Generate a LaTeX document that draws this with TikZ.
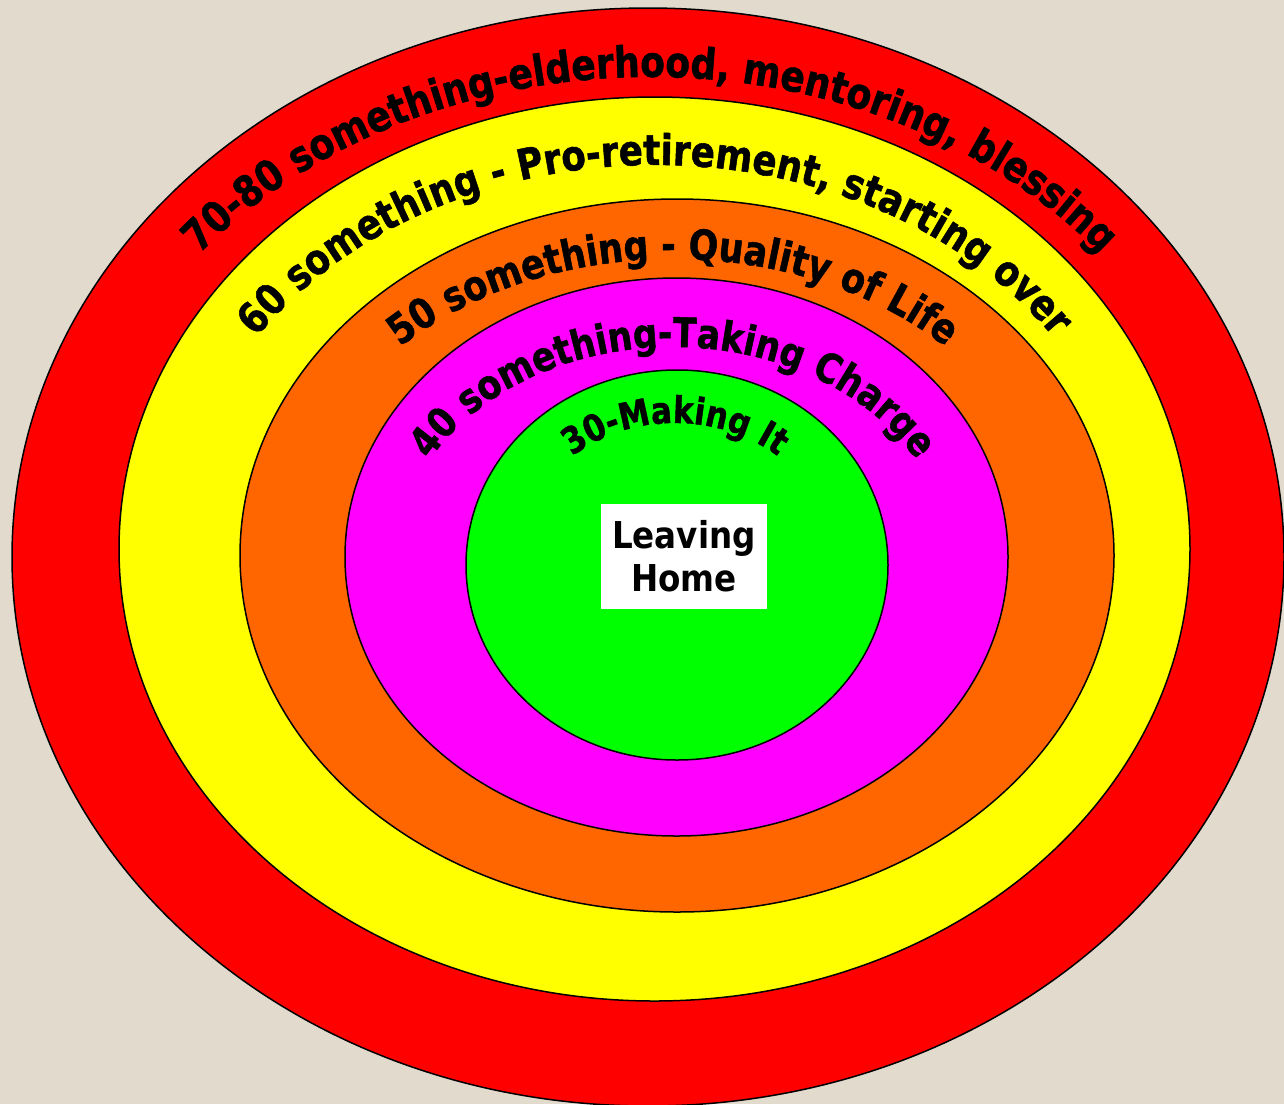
\documentclass[tikz,border=0pt]{standalone}
\usepackage{fontspec}
\usetikzlibrary{decorations.text}

\newfontfamily\ringfont[FakeStretch=0.84, FakeBold=1.2]{DejaVu Sans}
\newfontfamily\homefont[FakeStretch=0.88]{DejaVu Sans}

\definecolor{paper}{RGB}{225,218,205}
\definecolor{ringred}{RGB}{255,0,0}
\definecolor{ringyellow}{RGB}{255,255,0}
\definecolor{ringorange}{RGB}{255,102,0}
\definecolor{ringmagenta}{RGB}{255,0,255}
\definecolor{ringgreen}{RGB}{0,255,0}

\begin{document}
\begin{tikzpicture}[
    x=0.5pt, y=-0.5pt,
    % Ring styles
    ring/.style={
        fill=#1,
        draw=black,
        line width=0.75pt
    },
    % Text bent along an arc
    arclabel/.style n args={2}{
        decorate,
        decoration={
            text along path,
            text align=center,
            text={|\ringfont\bfseries\fontsize{#1}{#1}\selectfont|#2}
        }
    },
    centrebox/.style={
        fill=white,
        minimum width=83pt,
        minimum height=52.5pt,
        inner sep=0pt,
        align=center,
        font=\homefont\bfseries\fontsize{18.5pt}{21.5pt}\selectfont
    }
]

% Background
\fill[paper] (0,0) rectangle (1284,1104);
\clip (0,0) rectangle (1284,1104);

% Rings, outside in
\draw[ring=ringred]     (648,557)   ellipse [x radius=636,   y radius=549];
\draw[ring=ringyellow]  (654.5,549) ellipse [x radius=535.5, y radius=452];
\draw[ring=ringorange]  (677,555.5) ellipse [x radius=437,   y radius=356.5];
\draw[ring=ringmagenta] (676.5,557) ellipse [x radius=331.5, y radius=279];
\draw[ring=ringgreen]   (677,565)   ellipse [x radius=211,   y radius=195];

% Arc labels
\path[arclabel={21.4pt}{70-80 something-elderhood, mentoring, blessing}]
    (650,557) ++(-152:581 and 480) arc[start angle=-152, end angle=-28, x radius=581, y radius=480];
\path[arclabel={21.1pt}{60 something - Pro-retirement, starting over}]
    (655,550) ++(-156:478 and 385) arc[start angle=-156, end angle=-24, x radius=478, y radius=385];
\path[arclabel={20.7pt}{50 something - Quality of Life}]
    (673,556) ++(-148:384 and 297) arc[start angle=-148, end angle=-32, x radius=384, y radius=297];
\path[arclabel={20.4pt}{40 something-Taking Charge}]
    (673,563) ++(-162:277 and 216) arc[start angle=-162, end angle=-18, x radius=277, y radius=216];
\path[arclabel={18.4pt}{30-Making It}]
    (675,565) ++(-142:160 and 142) arc[start angle=-142, end angle=-38, x radius=160, y radius=142];

% Centre
\node[centrebox] (home) at (684,556.5) {Leaving\\Home};

\end{tikzpicture}
\end{document}
